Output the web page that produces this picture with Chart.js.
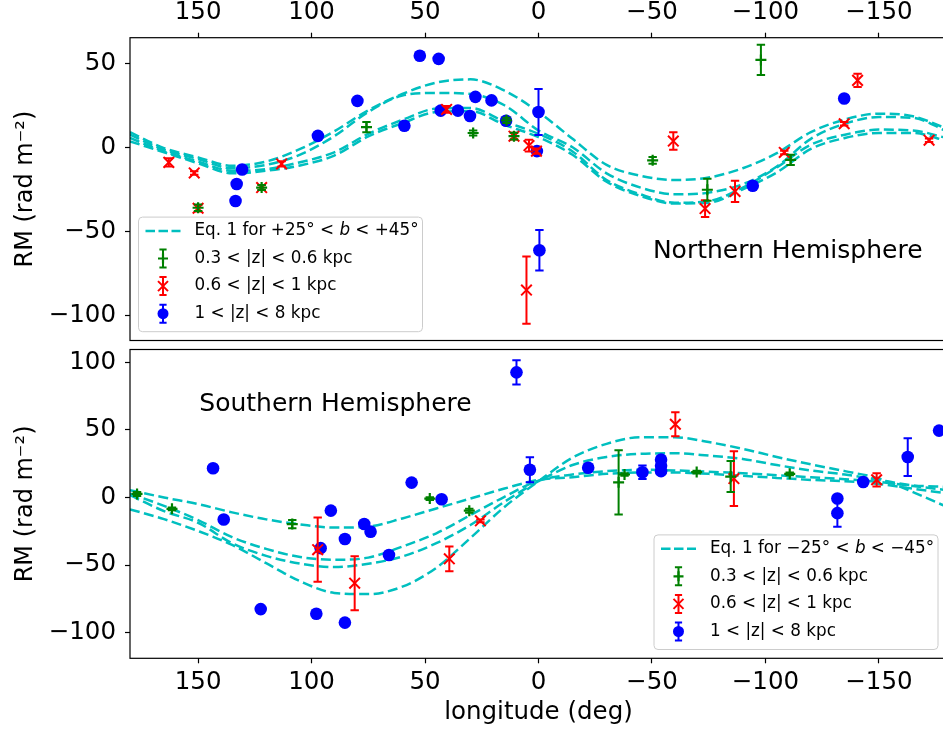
<!DOCTYPE html>
<html><head><meta charset="utf-8">
<script src="https://cdn.jsdelivr.net/npm/chart.js@4.4.0/dist/chart.umd.min.js"></script>
<style>
html,body{margin:0;padding:0;background:#fff;overflow:hidden;width:943px;height:734px;}
canvas{position:absolute;left:0;}
#topc{top:0;width:960px;height:350px;}
#botc{top:340px;width:960px;height:394px;}
</style></head><body>
<canvas id="topc" width="960" height="350"></canvas>
<canvas id="botc" width="960" height="394"></canvas>
<script>
// ---------- data ----------
const lonTicks = [150, 100, 50, 0, -50, -100, -150];
const northRMTicks = [50, 0, -50, -100];
const southRMTicks = [100, 50, 0, -50, -100];
const xLabel = 'longitude (deg)';
const yLabel = 'RM (rad m\u207B\u00B2)';
const northTitle = 'Northern Hemisphere';
const southTitle = 'Southern Hemisphere';
const northLegend = ['Eq. 1 for +25\u00B0 < b < +45\u00B0', '0.3 < |z| < 0.6 kpc', '0.6 < |z| < 1 kpc', '1 < |z| < 8 kpc'];
const southLegend = ['Eq. 1 for \u221225\u00B0 < b < \u221245\u00B0', '0.3 < |z| < 0.6 kpc', '0.6 < |z| < 1 kpc', '1 < |z| < 8 kpc'];

const modelLon = [180,165,150,135,120,105,90,75,60,45,30,15,0,-15,-30,-45,-60,-75,-90,-105,-120,-135,-150,-165,-180];
const northModel1 = [9,-0.5,-6,-11,-8.5,-1,9.5,22,31.7,38.5,40.4,33.7,21,5,-10.5,-17,-19.5,-18,-12.5,-3.5,9,16.5,20,18.5,11];
const northModel2 = [7.5,-1.5,-7,-12.5,-10.5,-4.4,6.6,21,30.8,32.3,31.7,25,10,0,-15.5,-24,-28,-27,-22,-11.5,5,14,18,17.5,9.5];
const northModel3 = [5.5,-2.5,-8.5,-14,-13,-8.9,-3,8,16.3,23,23.4,15.3,8,-2.5,-19.5,-28,-33,-32,-24,-12,1.5,7.5,10.5,10,5.5];
const northModel4 = [3.5,-3,-9.5,-15.5,-14,-10.8,-5,6.5,14.3,21,21.5,13.4,6,-4.5,-20.5,-29,-33.5,-33,-25,-15,-1,5.5,8.5,8.5,3.7];
const southModel1 = [5.4,0,-4.9,-11,-16.2,-19.9,-22.3,-21.5,-15.5,-8.1,-0.8,6.6,13,15,17.5,18.5,18.5,17.5,16,14.5,13,12,10,6.5,3];
const southModel2 = [2.9,-6.2,-16.7,-29.4,-38,-44.1,-46.1,-44.5,-36.3,-26.5,-13,0.5,12.5,17,19.5,20.5,20,19,18,16.5,15,13.5,11.5,8.5,5.4];
const southModel3 = [1.7,-10.1,-18.7,-33.9,-43.2,-49,-51.5,-49,-43.7,-33.8,-20.4,-3.2,12,24,30,32.3,32.7,31,28.5,24,20,17,13,9,7.8];
const southModel4 = [-8.8,-16,-24.8,-35.1,-48.6,-62,-70.6,-71.5,-66,-52,-30,-7,12,29.5,39.7,44.6,44.6,41,36,30,24.5,19.5,14,4,-7];

// North, 0.3<|z|<0.6 kpc
const northGreenLon = [150,122,75.8,28.8,14.1,10.8,-50.3,-98,-74.4,-111.1];
const northGreenRM  = [-36,-24,12,8.5,16,6.6,-7.8,52,-25.3,-7.5];
const northGreenErr = [2,1.5,3,1.5,1.5,2,2,9,6.5,3];
// North, 0.6<|z|<1 kpc
const northRedLon = [162.9,151.7,150,122,113.2,40.5,10.8,4.2,0.9,5.3,-59.4,-73.4,-86.6,-108.3,-134.7,-140.6,-172.1];
const northRedRM  = [-9,-15.3,-36.3,-24,-9.9,22.5,6.6,1,-2.3,-85,3.7,-36.5,-26.3,-3.1,14,39.8,4.2];
const northRedErr = [2.5,1,2,1.5,1.5,2,2,3.5,1.5,20,5.2,5,6.3,1,1,4,1];
// North, 1<|z|<8 kpc
const northBlueLon = [130.6,133,133.5,97.2,79.8,59.1,52.3,44,43.1,35.5,27.8,30.2,20.7,14.3,0.7,0,-0.4,-94.4,-134.7];
const northBlueRM  = [-13.2,-21.9,-32,6.8,27.6,12.8,54.5,52.6,21.8,21.8,30,18.6,27.9,15.8,-2.3,21,-61.3,-22.9,29];
const northBlueErr = [1,0,0,2,1,2,0,0,0,0,1,0,2,0,1,13.7,12,0,2];

// South, 0.3<|z|<0.6 kpc
const southGreenLon = [176.9,161.5,108.5,47.9,30.5,-35.3,-37.9,-69.7,-84.7,-110.7];
const southGreenRM  = [2.6,-8.4,-19.7,-0.8,-9.8,11.2,17,18.8,15.5,17.5];
const southGreenErr = [1.5,1,3,1,1.5,23.8,1,1,11.5,1];
// South, 0.6<|z|<1 kpc
const southRedLon = [97.3,81,39.3,25.6,-60.3,-86.1,-149];
const southRedRM  = [-38.6,-63.4,-45.4,-17.3,54.2,14,13.1];
const southRedErr = [23.8,20,9.2,1,8.9,20.3,4.9];
// South, 1<|z|<8 kpc
const southBlueLon = [143.4,138.7,122.4,97.9,96,91.5,85.3,85.3,76.8,74,65.9,55.9,42.7,9.7,3.8,-21.9,-45.8,-54,-54,-54,-131.7,-131.7,-143.1,-162.7,-176.5];
const southBlueRM  = [21.6,-16.3,-82.6,-86,-37.5,-9.7,-92.6,-30.7,-19.6,-25.3,-42.6,11,-1.3,92.6,20.5,22,18.7,28,23.5,19.5,-0.8,-11.6,11.4,29.9,49.5];
const southBlueErr = [0,0,0,0,0,0,0,0,0,0,0,0,0,9,9.3,0,5,2,0,2,0,10,0,14,0];

// ---------- styling ----------
const FONT = 'DejaVu Sans';
const MODEL_COLOR = '#00bfbf';
const GREEN = '#008000', RED = '#ff0000', BLUE = '#0000ff';
Chart.defaults.font.family = FONT;
Chart.defaults.color = '#000';
Chart.defaults.animation = false;

const fmt = v => (v < 0 ? '\u2212' + Math.abs(v) : String(v));
const pts = (xs, ys) => xs.map((x, i) => ({x: x, y: ys[i]}));

function modelSet(arr) {
  return {label: 'model', data: pts(modelLon, arr), showLine: true, pointRadius: 0, pointHoverRadius: 0,
    borderColor: MODEL_COLOR, backgroundColor: MODEL_COLOR, borderWidth: 2.5, borderDash: [10, 4.5],
    cubicInterpolationMode: 'monotone', fill: false, order: 10};
}
function seriesSet(label, xs, ys, errs, kind) {
  const base = {label: label, data: pts(xs, ys), errors: errs, showLine: false, kind: kind};
  if (kind === 'green') return Object.assign(base, {pointStyle: 'cross', pointRadius: 5.5, borderColor: GREEN, backgroundColor: GREEN, borderWidth: 2.2, order: 1});
  if (kind === 'red') return Object.assign(base, {pointStyle: 'crossRot', pointRadius: 7.5, borderColor: RED, backgroundColor: RED, borderWidth: 2, order: 2});
  return Object.assign(base, {pointStyle: 'circle', pointRadius: 6.3, borderColor: BLUE, backgroundColor: BLUE, borderWidth: 0, order: 3});
}

const errorBarPlugin = {
  id: 'errbars',
  beforeDatasetDraw(chart, args) {
    const ds = chart.data.datasets[args.index];
    if (!ds.errors) return;
    const ctx = chart.ctx, xs = chart.scales.x, ys = chart.scales.y, a = chart.chartArea;
    ctx.save();
    ctx.beginPath(); ctx.rect(a.left, a.top, a.right - a.left, a.bottom - a.top); ctx.clip();
    ctx.strokeStyle = ds.borderColor; ctx.lineWidth = 2;
    ds.data.forEach((p, i) => {
      const e = ds.errors[i]; if (!e) return;
      const px = xs.getPixelForValue(p.x);
      const y1 = ys.getPixelForValue(p.y + e), y2 = ys.getPixelForValue(p.y - e);
      ctx.beginPath();
      ctx.moveTo(px, y1); ctx.lineTo(px, y2);
      ctx.moveTo(px - 4.2, y1); ctx.lineTo(px + 4.2, y1);
      ctx.moveTo(px - 4.2, y2); ctx.lineTo(px + 4.2, y2);
      ctx.stroke();
    });
    ctx.restore();
  }
};

const framePlugin = {
  id: 'frame',
  afterDatasetsDraw(chart) {
    const ctx = chart.ctx, a = chart.chartArea;
    ctx.save(); ctx.strokeStyle = '#000'; ctx.lineWidth = 1.2;
    ctx.strokeRect(a.left, a.top, a.right - a.left, a.bottom - a.top);
    ctx.restore();
  }
};

function drawRich(ctx, text, x, y, size) {
  // italic for the math variable b
  let cx = x;
  for (let i = 0; i < text.length; i++) {
    const ch = text[i];
    const italic = (ch === 'b' && text[i-1] === ' ' && text[i+1] === ' ');
    ctx.font = (italic ? 'italic ' : '') + size + 'px "' + FONT + '"';
    ctx.fillText(ch, cx, y);
    cx += ctx.measureText(ch).width;
  }
}

function drawMarker(ctx, kind, cx, cy) {
  ctx.setLineDash([]);
  const col = kind === 'green' ? GREEN : kind === 'red' ? RED : BLUE;
  ctx.strokeStyle = col; ctx.fillStyle = col; ctx.lineWidth = 2;
  ctx.beginPath();
  ctx.moveTo(cx, cy - 9); ctx.lineTo(cx, cy + 9);
  ctx.moveTo(cx - 3.6, cy - 9); ctx.lineTo(cx + 3.6, cy - 9);
  ctx.moveTo(cx - 3.6, cy + 9); ctx.lineTo(cx + 3.6, cy + 9);
  ctx.stroke();
  ctx.beginPath();
  if (kind === 'green') {
    ctx.lineWidth = 2.2;
    ctx.moveTo(cx - 5, cy); ctx.lineTo(cx + 5, cy); ctx.moveTo(cx, cy - 5); ctx.lineTo(cx, cy + 5); ctx.stroke();
  } else if (kind === 'red') {
    const r = 5;
    ctx.moveTo(cx - r, cy - r); ctx.lineTo(cx + r, cy + r); ctx.moveTo(cx - r, cy + r); ctx.lineTo(cx + r, cy - r); ctx.stroke();
  } else {
    ctx.arc(cx, cy, 5.5, 0, Math.PI * 2); ctx.fill();
  }
}

const legendPlugin = {
  id: 'customLegend',
  afterDraw(chart) {
    const o = chart.options.plugins.customLegend;
    if (!o) return;
    const a = chart.chartArea, ctx = chart.ctx;
    const bx = o.anchor === 'left' ? a.left + 8.5 : a.right - 293;
    const bw = 284;
    const bh = 114.6;
    const by = a.bottom - 123.4;
    ctx.save();
    ctx.beginPath();
    if (ctx.roundRect) ctx.roundRect(bx, by, bw, bh, 4); else ctx.rect(bx, by, bw, bh);
    ctx.fillStyle = 'rgba(255,255,255,0.8)'; ctx.fill();
    ctx.strokeStyle = '#cccccc'; ctx.lineWidth = 1; ctx.stroke();
    const kinds = ['model', 'green', 'red', 'blue'];
    o.labels.forEach((lab, i) => {
      const cy = by + 13.8 + 27.6 * i;
      if (kinds[i] === 'model') {
        ctx.strokeStyle = MODEL_COLOR; ctx.lineWidth = 2.5; ctx.setLineDash([9.5, 3.5]);
        ctx.beginPath(); ctx.moveTo(bx + 7, cy); ctx.lineTo(bx + 42, cy); ctx.stroke();
      } else {
        drawMarker(ctx, kinds[i], bx + 24.5, cy);
      }
      ctx.fillStyle = '#000'; ctx.textBaseline = 'middle'; ctx.textAlign = 'left';
      drawRich(ctx, lab, bx + 56, cy, 16.8);
    });
    ctx.restore();
  }
};

const annotPlugin = {
  id: 'annot',
  afterDraw(chart) {
    const o = chart.options.plugins.annot;
    if (!o) return;
    const a = chart.chartArea, ctx = chart.ctx;
    ctx.save();
    ctx.font = '25px "' + FONT + '"'; ctx.fillStyle = '#000';
    ctx.textAlign = 'left'; ctx.textBaseline = 'alphabetic';
    ctx.fillText(o.text, a.left + o.fx * (a.right - a.left), a.top + o.fy * (a.bottom - a.top));
    ctx.restore();
  }
};

function makeChart(id, opts) {
  const datasets = [
    modelSet(opts.models[0]), modelSet(opts.models[1]), modelSet(opts.models[2]), modelSet(opts.models[3]),
    seriesSet(opts.legend[1], opts.green[0], opts.green[1], opts.green[2], 'green'),
    seriesSet(opts.legend[2], opts.red[0], opts.red[1], opts.red[2], 'red'),
    seriesSet(opts.legend[3], opts.blue[0], opts.blue[1], opts.blue[2], 'blue')
  ];
  const tickGrid = {display: true, drawOnChartArea: false, drawTicks: true, tickLength: 5, tickWidth: 1.2, tickColor: '#000', color: '#000'};
  return new Chart(document.getElementById(id), {
    type: 'scatter',
    data: {datasets: datasets},
    plugins: [errorBarPlugin, framePlugin, legendPlugin, annotPlugin],
    options: {
      responsive: false, devicePixelRatio: 1, animation: false,
      layout: {padding: opts.padding},
      events: [],
      plugins: {legend: {display: false}, tooltip: {enabled: false},
        customLegend: {labels: opts.legend, anchor: opts.legendAnchor},
        annot: opts.annot},
      scales: {
        x: {type: 'linear', position: opts.xPos, min: -180, max: 180, reverse: true,
          afterBuildTicks: s => { s.ticks = lonTicks.map(v => ({value: v})); },
          afterFit: s => { s.height = opts.xHeight; s.paddingLeft = 0; s.paddingRight = 0; },
          ticks: {callback: v => fmt(v), font: {size: 24.5}, padding: 5, maxRotation: 0, autoSkip: false, color: '#000'},
          grid: tickGrid, border: {display: false},
          title: opts.xTitle ? {display: true, text: xLabel, font: {size: 24.5}, color: '#000', padding: {top: 0, bottom: 6.5}} : {display: false}
        },
        y: {type: 'linear', position: 'left', min: opts.ymin, max: opts.ymax,
          afterBuildTicks: s => { s.ticks = opts.yTicks.map(v => ({value: v})); },
          afterFit: s => { s.width = 130; s.paddingTop = 0; s.paddingBottom = 0; },
          ticks: {callback: v => fmt(v), font: {size: 24.5}, padding: 9, autoSkip: false, color: '#000'},
          grid: tickGrid, border: {display: false},
          title: {display: true, text: yLabel, font: {size: 24}, color: '#000', padding: {top: 11, bottom: 0}}
        }
      }
    }
  });
}

makeChart('topc', {
  models: [northModel1, northModel2, northModel3, northModel4],
  green: [northGreenLon, northGreenRM, northGreenErr],
  red: [northRedLon, northRedRM, northRedErr],
  blue: [northBlueLon, northBlueRM, northBlueErr],
  legend: northLegend, legendAnchor: 'left',
  annot: {text: northTitle, fx: 0.640, fy: 0.727},
  padding: {left: 0, right: 13, top: 0, bottom: 1.7},
  xPos: 'top', xHeight: 37.7, xTitle: false,
  ymin: -115, ymax: 65.2, yTicks: northRMTicks
});
makeChart('botc', {
  models: [southModel1, southModel2, southModel3, southModel4],
  green: [southGreenLon, southGreenRM, southGreenErr],
  red: [southRedLon, southRedRM, southRedErr],
  blue: [southBlueLon, southBlueRM, southBlueErr],
  legend: southLegend, legendAnchor: 'right',
  annot: {text: southTitle, fx: 0.0848, fy: 0.199},
  padding: {left: 0, right: 13, top: 8.3, bottom: 0},
  xPos: 'bottom', xHeight: 75.7, xTitle: true,
  ymin: -119, ymax: 109.5, yTicks: southRMTicks
});
</script>
</body></html>
